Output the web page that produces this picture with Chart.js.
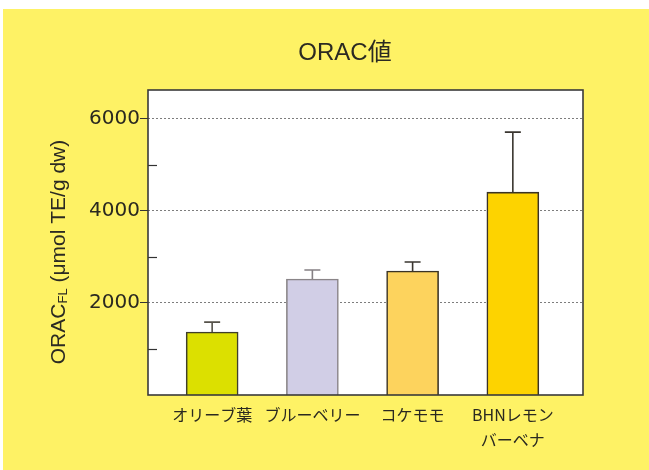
<!DOCTYPE html>
<html>
<head>
<meta charset="utf-8">
<script src="https://cdn.jsdelivr.net/npm/chart.js@4"></script>
<style>
  body { margin: 0; background: #fff; }
  #wrap { position: absolute; left: 0; top: 0; width: 649px; height: 470px; }
</style>
</head>
<body>
<div id="wrap"><canvas id="orac-chart" width="649" height="470"></canvas></div>
<script>
// values
const categories = ['オリーブ葉', 'ブルーベリー', 'コケモモ', ['BHNレモン', 'バーベナ']];
const oracValues = [1370, 2520, 2695, 4410];
const errorValues = [215, 197, 195, 1305];
const barColors = ['#dce000', '#d1cee6', '#fdd35d', '#fdd300'];
const barBorders = ['#3f3f2a', '#8a8588', '#3a3325', '#3a3325'];
const errorColors = ['#55524a', '#858084', '#3a3630', '#3a3630'];
const yTicks = [2000, 4000, 6000];
const yMinorTicks = [1000, 3000, 5000];

const TITLE_FONT = '24px "Liberation Sans", "Noto Sans CJK JP", sans-serif';

let decorations = {
    id: 'decorations',
    beforeDraw: function (chart) {
        let ctx = chart.ctx;
        let area = chart.chartArea;
        ctx.save();
        ctx.fillStyle = '#ffffff';
        ctx.fillRect(0, 0, chart.width, chart.height);
        ctx.fillStyle = '#fef265';
        ctx.fillRect(3, 9, chart.width - 3, chart.height - 9);
        ctx.fillStyle = '#ffffff';
        ctx.fillRect(area.left, area.top, area.right - area.left, area.bottom - area.top);
        ctx.restore();
    },
    afterDatasetsDraw: function (chart) {
        let ctx = chart.ctx;
        let area = chart.chartArea;
        let xScale = chart.scales.x;
        let yScale = chart.scales.y;
        ctx.save();

        // error bars (upper only)
        oracValues.forEach(function (v, i) {
            let x = xScale.getPixelForValue(i);
            let yTop = yScale.getPixelForValue(v);
            let yErr = yScale.getPixelForValue(v + errorValues[i]);
            ctx.strokeStyle = errorColors[i];
            ctx.lineWidth = 1.6;
            ctx.beginPath();
            ctx.moveTo(x, yTop);
            ctx.lineTo(x, yErr);
            ctx.moveTo(x - 8, yErr);
            ctx.lineTo(x + 8, yErr);
            ctx.stroke();
        });

        // minor ticks point inward
        ctx.strokeStyle = '#333';
        ctx.lineWidth = 1.2;
        yMinorTicks.forEach(function (v) {
            let y = Math.round(yScale.getPixelForValue(v)) + 0.5;
            ctx.beginPath();
            ctx.moveTo(area.left, y);
            ctx.lineTo(area.left + 9, y);
            ctx.stroke();
        });

        // frame of the plot
        ctx.strokeStyle = '#3a3a3a';
        ctx.lineWidth = 1.6;
        ctx.strokeRect(area.left, area.top, area.right - area.left, area.bottom - area.top);
        ctx.restore();
    },
    afterDraw: function (chart) {
        let ctx = chart.ctx;
        ctx.save();
        ctx.fillStyle = '#2b2a22';
        ctx.textAlign = 'center';
        ctx.textBaseline = 'middle';
        ctx.font = TITLE_FONT;
        ctx.fillText('ORAC値', 345, 53);

        // y axis title with subscript FL
        let big = '21px "Liberation Sans", sans-serif';
        let small = '13px "Liberation Sans", sans-serif';
        let parts = [['ORAC', big, 0], ['FL', small, 4], [' (μmol TE/g dw)', big, 0]];
        let total = 0;
        parts.forEach(function (p) { ctx.font = p[1]; total += ctx.measureText(p[0]).width; });
        ctx.translate(59, 252);
        ctx.rotate(-Math.PI / 2);
        ctx.textAlign = 'left';
        let pos = -total / 2;
        parts.forEach(function (p) {
            ctx.font = p[1];
            ctx.fillText(p[0], pos, p[2]);
            pos += ctx.measureText(p[0]).width;
        });
        ctx.restore();
    }
};

new Chart(document.getElementById('orac-chart'), {
    type: 'bar',
    data: {
        datasets: [{
            data: oracValues.map(function (v, i) { return {x: i, y: v}; }),
            backgroundColor: barColors,
            borderColor: barBorders,
            borderWidth: 1.6,
            barThickness: 52
        }]
    },
    options: {
        responsive: false,
        animation: false,
        layout: {padding: {left: 0, right: 66, top: 90, bottom: 0}},
        plugins: {legend: {display: false}, tooltip: {enabled: false}, title: {display: false}},
        scales: {
            x: {
                type: 'linear',
                min: -0.64,
                max: 3.70,
                offset: false,
                afterBuildTicks: function (scale) {
                    scale.ticks = [0, 1, 2, 3].map(function (v) { return {value: v}; });
                },
                afterFit: function (scale) { scale.height = 75; },
                grid: {display: false, drawTicks: false, offset: false},
                border: {display: false},
                ticks: {
                    autoSkip: false,
                    maxRotation: 0,
                    padding: 8,
                    color: '#2a2920',
                    font: {family: '"Noto Sans CJK JP", sans-serif', size: 16, lineHeight: 1.55},
                    callback: function (value) { return categories[value]; }
                }
            },
            y: {
                min: 0,
                max: 6630,
                afterBuildTicks: function (scale) {
                    scale.ticks = yTicks.map(function (v) { return {value: v}; });
                },
                afterFit: function (scale) { scale.width = 148; },
                border: {display: false, dash: [2, 2]},
                grid: {
                    color: '#7d7d7d',
                    borderDash: [2, 2],
                    tickBorderDash: [],
                    tickColor: '#333',
                    tickLength: 8,
                    lineWidth: 1
                },
                ticks: {
                    padding: 0,
                    color: '#2a2920',
                    font: {family: '"DejaVu Sans", sans-serif', size: 20},
                    callback: function (value) { return String(value); }
                }
            }
        }
    },
    plugins: [decorations]
});
</script>
</body>
</html>
